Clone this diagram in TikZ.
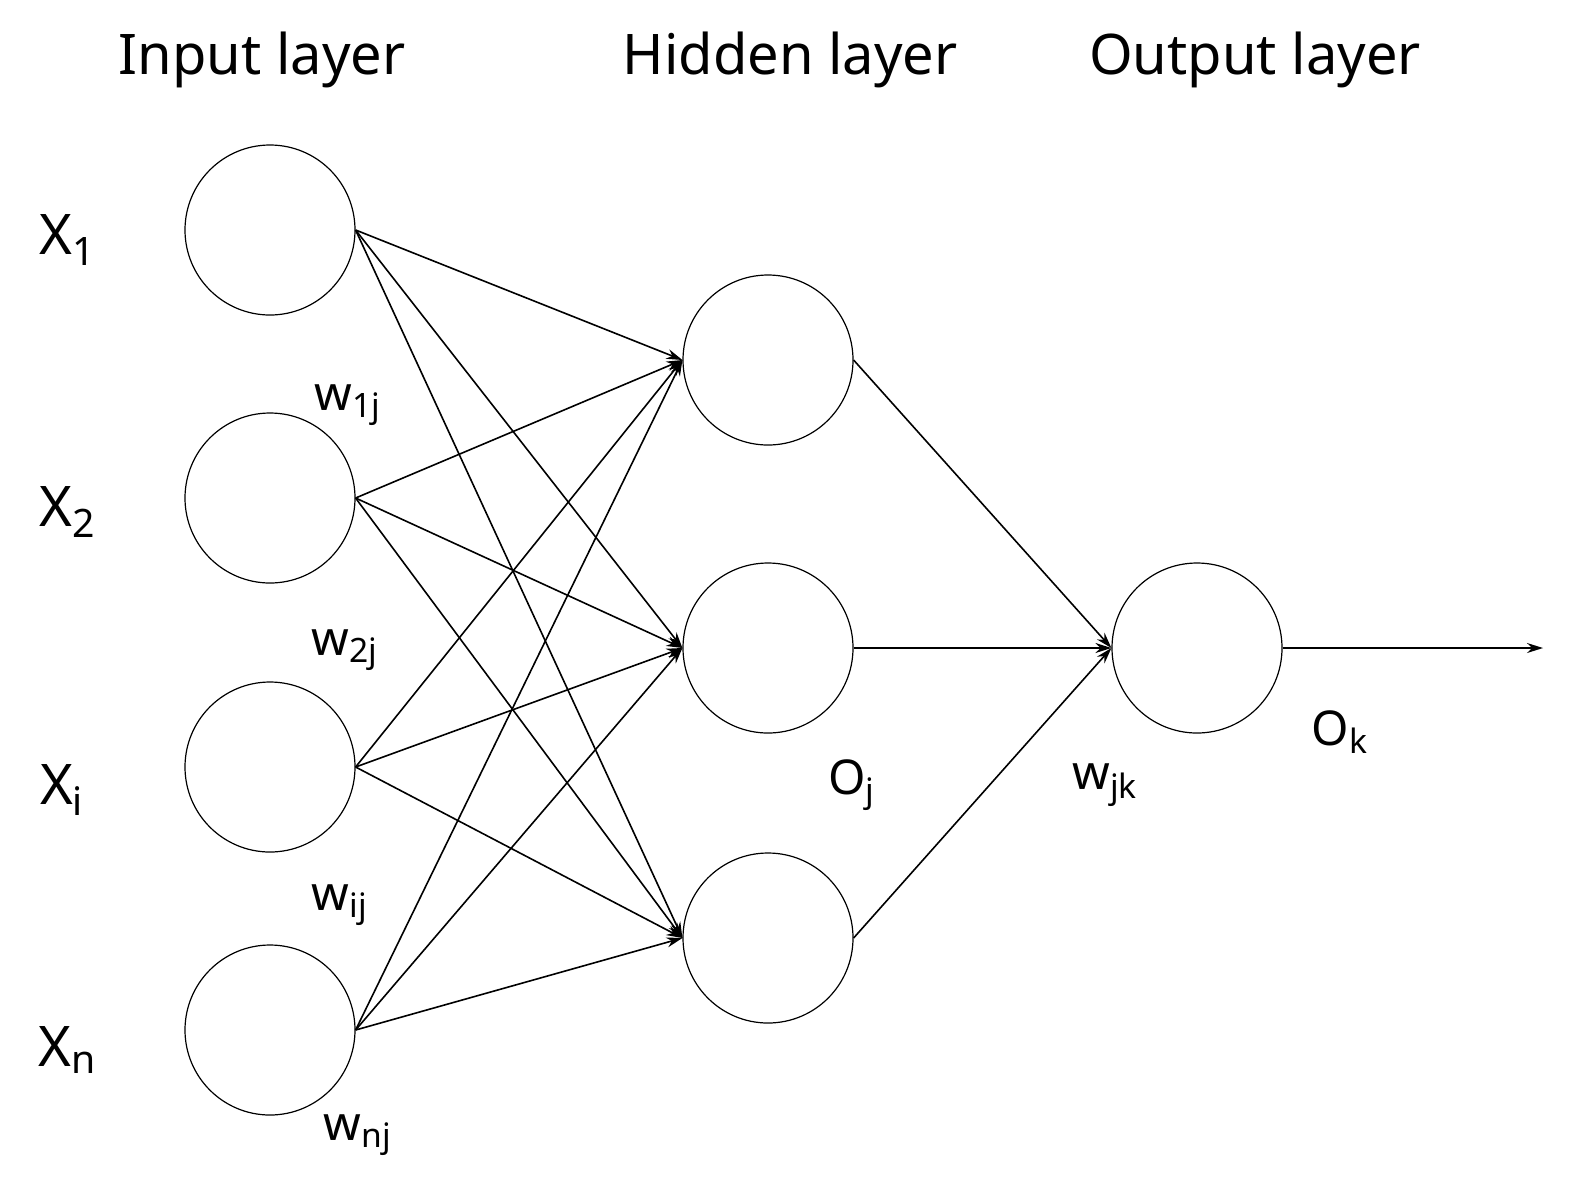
\documentclass[tikz,border=0pt]{standalone}
\usepackage{fontspec}
\setmainfont{Noto Sans}
\usetikzlibrary{arrows.meta}
\begin{document}
\begin{tikzpicture}[x=0.5pt,y=0.5pt,
  neuron/.style={circle,draw,line width=0.6pt,minimum size=85pt,inner sep=0pt},
  conn/.style={line width=0.8pt,-{Stealth[length=8pt,width=5pt]}},
  title/.style={font=\fontsize{28}{32}\selectfont},
  xl/.style={font=\fontsize{28}{32}\selectfont},
  wl/.style={font=\fontsize{24}{28}\selectfont}]
\useasboundingbox (0,0) rectangle (1573,-1201);
\node[neuron] (i1) at (270,-230) {};
\node[neuron] (i2) at (270,-498) {};
\node[neuron] (i3) at (270,-767) {};
\node[neuron] (i4) at (270,-1030) {};
\node[neuron] (h1) at (768,-360) {};
\node[neuron] (h2) at (768,-648) {};
\node[neuron] (h3) at (768,-938) {};
\node[neuron] (o) at (1197,-648) {};
\coordinate (out) at (1543,-648);
\foreach \i in {1,...,4}{\foreach \h in {1,2,3}{\draw[conn] (i\i.east) -- (h\h.west);}}
\foreach \h in {1,2,3}{\draw[conn] (h\h.east) -- (o.west);}
\draw[conn] (o.east) -- (out);
\node[title] (t1) at (262,-60) {Input layer};
\node[title] (t2) at (790,-60) {Hidden layer};
\node[title] (t3) at (1255,-60) {Output layer};
\node[xl] (x1) at (68,-240) {X\textsubscript{1}};
\node[xl] (x2) at (68,-512) {X\textsubscript{2}};
\node[xl] (x3) at (62,-790) {X\textsubscript{i}};
\node[xl] (x4) at (68,-1050) {X\textsubscript{n}};
\node[wl] (w1) at (348,-405) {w\textsubscript{1j}};
\node[wl] (w2) at (345,-650) {w\textsubscript{2j}};
\node[wl] (w3) at (340,-905) {w\textsubscript{ij}};
\node[wl] (w4) at (358,-1135) {w\textsubscript{nj}};
\node[wl] (oj) at (852,-785) {O\textsubscript{j}};
\node[wl] (wjk) at (1105,-785) {w\textsubscript{jk}};
\node[wl] (ok) at (1340,-732) {O\textsubscript{k}};
\end{tikzpicture}
\end{document}
